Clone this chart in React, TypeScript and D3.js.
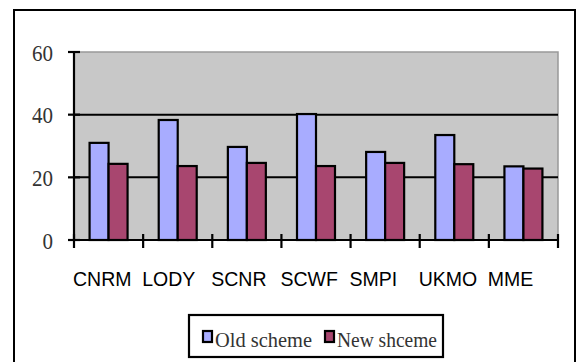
import React from "react";
import * as d3 from "d3";

const categories = ["CNRM", "LODY", "SCNR", "SCWF", "SMPI", "UKMO", "MME"];
const oldScheme = [31, 38.3, 29.7, 40.2, 28.1, 33.5, 23.5];
const newScheme = [24.3, 23.6, 24.6, 23.6, 24.6, 24.2, 22.8];
const seriesNames = ["Old scheme", "New shceme"];
const yTicks = [0, 20, 40, 60];

const W = 576;
const H = 362;
const colors = ["#a8acff", "#a8466f"];

export default function App() {
  const left = 74, right = 558, top = 52, bottom = 240;
  const x = d3.scaleBand<string>().domain(categories).range([left, right]).paddingInner(0).paddingOuter(0);
  const xs = d3.scaleBand<string>().domain(seriesNames).range([0, x.bandwidth()]).paddingInner(0).paddingOuter(0.82);
  const y = d3.scaleLinear().domain([0, 60]).range([bottom, top]);
  const series = [oldScheme, newScheme];
  const serif = "'Liberation Serif', 'DejaVu Serif', serif";
  const sans = "'Liberation Sans', Arial, sans-serif";

  return (
    <svg width={W} height={H} style={{ position: "absolute", left: 0, top: 0, background: "#fff" }}>
      <rect x={14} y={10} width={561} height={400} fill="#fff" stroke="#000" strokeWidth={2} />
      <rect x={left} y={top} width={right - left} height={bottom - top} fill="#c8c8c8" stroke="#999" strokeWidth={1.5} />
      {yTicks.filter((t) => t > 0 && t < 60).map((t) => (
        <line key={t} x1={left} x2={right} y1={y(t)} y2={y(t)} stroke="#000" strokeWidth={2} />
      ))}
      {series.map((vals, si) =>
        categories.map((c, i) => (
          <rect
            key={`${si}-${c}`}
            x={(x(c) as number) + (xs(seriesNames[si]) as number)}
            y={y(vals[i])}
            width={xs.bandwidth()}
            height={y(0) - y(vals[i])}
            fill={colors[si]}
            stroke="#000"
            strokeWidth={2.2}
          />
        ))
      )}
      {/* y axis */}
      <line x1={left} x2={left} y1={top} y2={bottom} stroke="#000" strokeWidth={2.2} />
      {yTicks.map((t) => (
        <g key={t}>
          <line x1={left - 6} x2={left + 6} y1={y(t)} y2={y(t)} stroke="#000" strokeWidth={2.2} />
          <text
            x={53}
            y={y(t) + 8.5}
            textAnchor="end"
            fontFamily={serif}
            fontSize={24}
            fill="#333"
            textLength={String(t).length * 10.5}
            lengthAdjust="spacingAndGlyphs"
          >
            {t}
          </text>
        </g>
      ))}
      {/* x axis */}
      <line x1={left} x2={right} y1={bottom} y2={bottom} stroke="#000" strokeWidth={2.2} />
      {categories.concat(["_end"]).map((c, i) => {
        const xx = i < categories.length ? (x(c) as number) : right;
        return <line key={c} x1={xx} x2={xx} y1={bottom - 6} y2={bottom + 8} stroke="#000" strokeWidth={2.2} />;
      })}
      {categories.map((c) => (
        <text key={c} x={(x(c) as number) - 1} y={286} fontFamily={sans} fontSize={19.5} fill="#000">
          {c}
        </text>
      ))}
      {/* legend */}
      <rect x={189} y={315} width={254} height={42} fill="#fff" stroke="#000" strokeWidth={2.2} />
      {seriesNames.map((s, i) => {
        const lx = i === 0 ? 203 : 325;
        return (
          <g key={s}>
            <rect x={lx} y={331} width={9} height={11} fill={colors[i]} stroke="#000" strokeWidth={2.2} />
            <text
              x={lx + 12}
              y={347}
              fontFamily={serif}
              fontSize={22}
              fill="#333"
              textLength={i === 0 ? 97 : 100}
              lengthAdjust="spacingAndGlyphs"
            >
              {s}
            </text>
          </g>
        );
      })}
    </svg>
  );
}
